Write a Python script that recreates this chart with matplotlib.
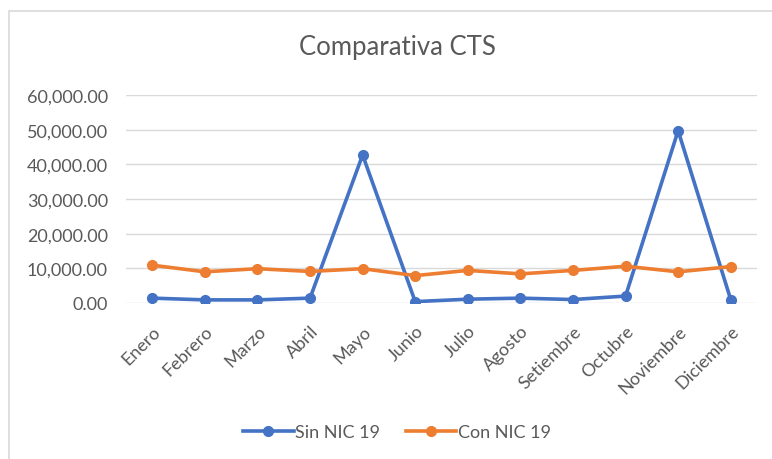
import matplotlib.pyplot as plt
from matplotlib.patches import Rectangle
from matplotlib.ticker import FuncFormatter

meses = ['Enero', 'Febrero', 'Marzo', 'Abril', 'Mayo', 'Junio', 'Julio',
         'Agosto', 'Setiembre', 'Octubre', 'Noviembre', 'Diciembre']
sin_nic19 = [1400, 900, 900, 1400, 42700, 400, 1100, 1400, 1000, 2000, 49700, 1000]
con_nic19 = [10900, 9000, 9900, 9100, 9900, 7900, 9400, 8400, 9400, 10600, 9000, 10500]

plt.rcParams['font.family'] = ['Lato', 'DejaVu Sans']

fig = plt.figure(figsize=(7.72, 4.6), dpi=100)
fig.patches.append(Rectangle((9 / 772, -0.1), 1.2, 1.1 - 12 / 460, transform=fig.transFigure,
                             fill=False, edgecolor='#D9D9D9', linewidth=1.2))
ax = fig.add_axes([126 / 772, 1 - 304 / 460, 631 / 772, 208 / 460])

x = range(len(meses))
ax.plot(x, sin_nic19, marker='o', markersize=7, color='#4472C4', linewidth=2.6, label='Sin NIC 19')
ax.plot(x, con_nic19, marker='o', markersize=7, color='#ED7D31', linewidth=2.6, label='Con NIC 19')

ax.set_xlim(-0.5, len(meses) - 0.5)
ax.set_ylim(0, 60000)
ax.set_yticks(range(0, 60001, 10000))
ax.yaxis.set_major_formatter(FuncFormatter(lambda v, p: f'{v:,.2f}'))
ax.set_xticks(list(x))
ax.set_xticklabels(meses, rotation=45, ha='right', va='top', rotation_mode='anchor')
ax.grid(axis='y', color='#D9D9D9', linewidth=1)
ax.set_axisbelow(True)
for s in ax.spines.values():
    s.set_visible(False)
ax.tick_params(axis='both', length=0, labelsize=13, colors='#595959')
ax.tick_params(axis='y', pad=13)
ax.tick_params(axis='x', pad=14)

fig.text(397 / 772, 1 - 48 / 460, 'Comparativa CTS', ha='center', va='center', fontsize=18.5, color='#595959')
fig.legend(loc='center', bbox_to_anchor=(397 / 772, 1 - 433 / 460), ncol=2, frameon=False,
           fontsize=13, labelcolor='#595959', handlelength=2.8, handletextpad=0.1, columnspacing=1.4)

fig.savefig('out.png', dpi=100)
